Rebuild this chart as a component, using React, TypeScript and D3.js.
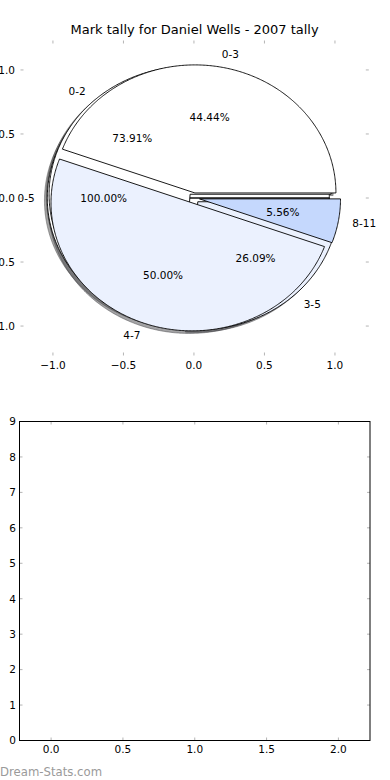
import React from "react";
import * as d3 from "d3";

// chart texts and values
const titleText = "Mark tally for Daniel Wells - 2007 tally";

const outerLabels = ["0-5"];
const outerValues = [9];
const midLabels = ["0-2", "3-5"];
const midValues = [17, 6];
const topLabels = ["0-3", "4-7", "8-11"];
const topValues = [8, 9, 1];

const wedgeColors = ["#ffffff", "#ebf1fe", "#c5d8fd"];

const pieTicks = [-1, -0.5, 0, 0.5, 1];
const barXTicks = [0, 0.5, 1, 1.5, 2];
const barYTicks = [0, 1, 2, 3, 4, 5, 6, 7, 8, 9];

const watermark = "Dream-Stats.com";

const FONT = "DejaVu Sans, sans-serif";
const W = 390;
const H = 780;
const TICK = "#b4b4b4";

const pieX = d3.scaleLinear().domain([-1.23, 1.24]).range([20.5, 368.8]);
const pieY = d3.scaleLinear().domain([-1.23, 1.23]).range([355.5, 40.5]);
const barX = d3.scaleLinear().domain([-0.22, 2.22]).range([19.5, 370]);
const barY = d3.scaleLinear().domain([0, 9]).range([740.5, 421.5]);

const explode = 0.04;
const shadowOff = -0.02;

const fmt1 = d3.format(".1f");
const fmtPct = d3.format(".2f");

type Wedge = {
  label: string;
  frac: number;
  t0: number;
  t1: number;
  mid: number;
  cx: number;
  cy: number;
  color: string;
};

function makeWedges(values: number[], labels: string[]): Wedge[] {
  const total = d3.sum(values);
  const arcs = d3.pie<number>().sort(null).value((d) => d)(values);
  return arcs.map((a, i) => {
    const mid = (a.startAngle + a.endAngle) / 2;
    return {
      label: labels[i],
      frac: a.value / total,
      t0: a.startAngle,
      t1: a.endAngle,
      mid,
      cx: explode * Math.cos(mid),
      cy: explode * Math.sin(mid),
      color: wedgeColors[i % wedgeColors.length],
    };
  });
}

const line = d3
  .line<[number, number]>()
  .x((d) => pieX(d[0]))
  .y((d) => pieY(d[1]));

function wedgePath(w: Wedge, dx = 0, dy = 0) {
  const pts: [number, number][] = [[w.cx + dx, w.cy + dy]];
  const n = Math.max(2, Math.ceil((w.t1 - w.t0) / 0.01));
  for (let k = 0; k <= n; k++) {
    const t = w.t0 + ((w.t1 - w.t0) * k) / n;
    pts.push([w.cx + dx + Math.cos(t), w.cy + dy + Math.sin(t)]);
  }
  return line(pts) + "Z";
}

function shadowColor(c: string) {
  const rgb = d3.rgb(c);
  return `rgba(${Math.round(rgb.r * 0.3)},${Math.round(rgb.g * 0.3)},${Math.round(
    rgb.b * 0.3
  )},0.5)`;
}

const pies = [
  makeWedges(outerValues, outerLabels),
  makeWedges(midValues, midLabels),
  makeWedges(topValues, topLabels),
];

export default function App() {
  const all = pies.flat();
  return (
    <svg
      width={W}
      height={H}
      style={{ position: "absolute", left: 0, top: 0, background: "#fff" }}
      fontFamily={FONT}
    >
      <rect width={W} height={H} fill="#fff" />

      {/* pie axes */}
      <text x={194.6} y={34} fontSize={13} textAnchor="middle">
        {titleText}
      </text>

      {pieTicks.map((t) => (
        <g key={"py" + t}>
          <line x1={20.5} x2={23.5} y1={pieY(t)} y2={pieY(t)} stroke={TICK} />
          <line x1={368.8} x2={365.8} y1={pieY(t)} y2={pieY(t)} stroke={TICK} />
          <text x={15} y={pieY(t)} dy="0.36em" fontSize={10.5} textAnchor="end">
            {fmt1(t)}
          </text>
        </g>
      ))}
      {pieTicks.map((t) => (
        <g key={"px" + t}>
          <line x1={pieX(t)} x2={pieX(t)} y1={40.5} y2={43.5} stroke={TICK} />
          <line x1={pieX(t)} x2={pieX(t)} y1={355.5} y2={352.5} stroke={TICK} />
          <text x={pieX(t)} y={368.5} fontSize={10.5} textAnchor="middle">
            {fmt1(t)}
          </text>
        </g>
      ))}

      {/* shadows sit under every wedge */}
      {all.map((w, i) => (
        <path
          key={"s" + i}
          d={wedgePath(w, shadowOff, shadowOff)}
          fill={shadowColor(w.color)}
          stroke={shadowColor(w.color)}
          strokeWidth={1}
        />
      ))}
      {all.map((w, i) => (
        <path
          key={"w" + i}
          d={wedgePath(w)}
          fill={w.color}
          stroke="#000"
          strokeWidth={0.9}
        />
      ))}
      {all.map((w, i) => {
        const xt = w.cx + 1.1 * Math.cos(w.mid);
        const yt = w.cy + 1.1 * Math.sin(w.mid);
        return (
          <text
            key={"l" + i}
            x={pieX(xt) + (xt > 0 ? 0 : 1.5)}
            y={pieY(yt)}
            dy="0.36em"
            fontSize={10.5}
            textAnchor={xt > 0 ? "start" : "end"}
          >
            {w.label}
          </text>
        );
      })}
      {all.map((w, i) => (
        <text
          key={"p" + i}
          x={pieX(w.cx + 0.6 * Math.cos(w.mid))}
          y={pieY(w.cy + 0.6 * Math.sin(w.mid))}
          dy="0.36em"
          fontSize={10.5}
          textAnchor="middle"
        >
          {fmtPct(w.frac * 100) + "%"}
        </text>
      ))}

      {/* empty bar axes */}
      {barYTicks.map((t) => (
        <g key={"by" + t}>
          <line x1={19.5} x2={22.5} y1={barY(t)} y2={barY(t)} stroke={TICK} />
          <line x1={370} x2={367} y1={barY(t)} y2={barY(t)} stroke={TICK} />
          <text x={16} y={barY(t)} dy="0.36em" fontSize={10.5} textAnchor="end">
            {t}
          </text>
        </g>
      ))}
      {barXTicks.map((t) => (
        <g key={"bx" + t}>
          <line x1={barX(t)} x2={barX(t)} y1={421.5} y2={424.5} stroke={TICK} />
          <line x1={barX(t)} x2={barX(t)} y1={740.5} y2={737.5} stroke={TICK} />
          <text x={barX(t)} y={753} fontSize={10.5} textAnchor="middle">
            {fmt1(t)}
          </text>
        </g>
      ))}
      <rect
        x={19.5}
        y={421.5}
        width={370 - 19.5}
        height={740.5 - 421.5}
        fill="none"
        stroke="#000"
        strokeWidth={1}
      />

      <text x={0} y={776} fontSize={11.7} fill="#9a9a9a">
        {watermark}
      </text>
    </svg>
  );
}
